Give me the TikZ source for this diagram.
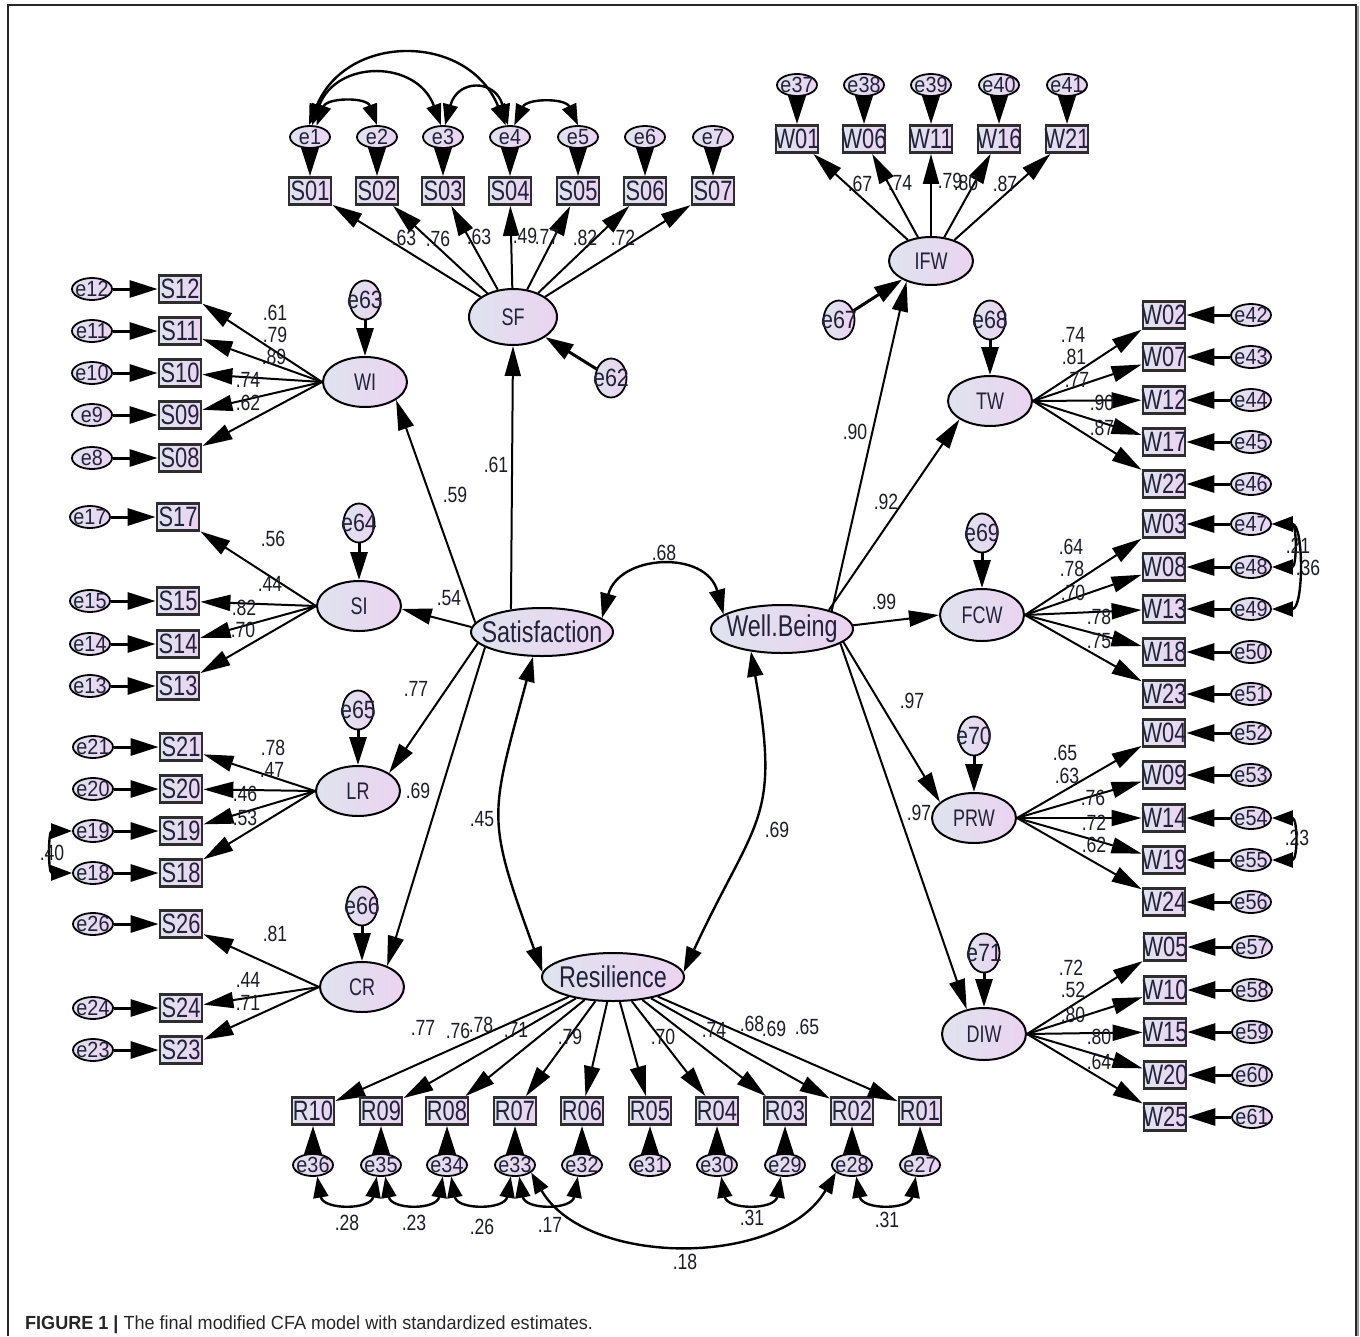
\documentclass[tikz,border=0pt]{standalone}
\usepackage{fontspec}
\setmainfont{Liberation Sans}
\newfontfamily\boxf[FakeStretch=0.78]{Liberation Sans}
\newfontfamily\errf[FakeStretch=0.9]{Liberation Sans}
\newfontfamily\distf[FakeStretch=0.86]{Liberation Sans}
\newfontfamily\latf[FakeStretch=0.75]{Liberation Sans}
\newfontfamily\bigf[FakeStretch=0.78]{Liberation Sans}
\newfontfamily\estf[FakeStretch=0.8]{Liberation Sans}
\newfontfamily\capfont[FakeStretch=0.95]{Liberation Sans}
\usetikzlibrary{shapes.geometric,arrows.meta}
\definecolor{lavL}{HTML}{DFE3EF}
\definecolor{lavR}{HTML}{EBD3F0}
\definecolor{txtc}{HTML}{22223A}
\definecolor{numc}{HTML}{1C1C28}
\definecolor{bordc}{HTML}{2E2E2E}
\tikzset{
  lavshade/.style={left color=lavL, right color=lavR},
  lat/.style={ellipse, draw=black, line width=2pt, lavshade, minimum width=84pt, minimum height=50pt, inner sep=0pt, label={[lattxt]center:#1}},
  lattxt/.style={font=\latf\fontsize{24}{24}\selectfont, text=txtc, inner sep=0pt},
  biglat/.style={ellipse, draw=black, line width=2pt, lavshade, minimum width=142pt, minimum height=48pt, inner sep=0pt, label={[bigtxt]center:#1}},
  bigtxt/.style={font=\bigf\fontsize{30}{30}\selectfont, text=txtc, inner sep=0pt},
  obs/.style={rectangle, draw=bordc, line width=2.8pt, lavshade, minimum width=42pt, minimum height=27pt, inner sep=0pt, label={[obstxt]center:#1}},
  obstxt/.style={font=\boxf\fontsize{28}{28}\selectfont, text=txtc, inner sep=0pt},
  err/.style={ellipse, draw=black, line width=1.8pt, lavshade, minimum width=40pt, minimum height=22pt, inner sep=0pt, label={[errtxt]center:#1}},
  errtxt/.style={font=\errf\fontsize{22}{22}\selectfont, text=txtc, inner sep=0pt},
  dist/.style={ellipse, draw=black, line width=1.8pt, lavshade, minimum width=31pt, minimum height=39pt, inner sep=0pt, label={[disttxt]center:#1}},
  disttxt/.style={font=\distf\fontsize{25}{25}\selectfont, text=txtc, inner sep=0pt},
  pth/.style={line width=2pt, -{Triangle[length=30pt,width=16pt]}},
  epth/.style={line width=3pt, -{Triangle[length=28pt,width=17pt]}},
  cov/.style={line width=2.4pt, {Triangle[length=25pt,width=16pt]}-{Triangle[length=25pt,width=16pt]}},
  scov/.style={line width=2.4pt, {Triangle[length=21pt,width=15pt]}-{Triangle[length=21pt,width=15pt]}},
  est/.style={font=\estf\fontsize{22}{22}\selectfont, text=numc, inner sep=0pt},
}
\begin{document}
\begin{tikzpicture}[x=1pt,y=1pt]
\useasboundingbox (0,0) rectangle (1360,-1336);
% frame
\draw[line width=1.3pt, black!85] (8,-1336) -- (8,-5) -- (1356,-5) -- (1356,-1336);
\draw[line width=2pt, black!40] (1357.5,-6) -- (1357.5,-1336);

% latent variables
\node[biglat=Satisfaction] (Sat) at (542,-632) {};
\node[biglat=Well.Being] (WB) at (782,-629) {};
\node[biglat=Resilience] (Res) at (613,-977) {};
\node[lat=SF, minimum width=88pt, minimum height=56pt] (SF) at (513,-317) {};
\node[lat=WI] (WI) at (365,-382) {};
\node[lat=SI] (SI) at (359,-606) {};
\node[lat=LR] (LR) at (358,-791) {};
\node[lat=CR] (CR) at (362,-987) {};
\node[lat=IFW, minimum height=48pt] (IFW) at (931,-261) {};
\node[lat=TW] (TW) at (990,-401) {};
\node[lat=FCW, minimum height=52pt] (FCW) at (982,-615) {};
\node[lat=PRW] (PRW) at (974,-818) {};
\node[lat=DIW, minimum height=52pt] (DIW) at (984,-1034) {};

% disturbances
\node[dist=e62] (e62) at (611,-378) {};
\node[dist=e63] (e63) at (365,-300) {};
\node[dist=e64] (e64) at (359,-523) {};
\node[dist=e65] (e65) at (358,-710) {};
\node[dist=e66] (e66) at (362,-906) {};
\node[dist=e67] (e67) at (839,-320) {};
\node[dist=e68] (e68) at (990,-320) {};
\node[dist=e69] (e69) at (982,-533) {};
\node[dist=e70] (e70) at (974,-736) {};
\node[dist=e71] (e71) at (984,-953) {};
\draw[epth] (e62) -- (SF);
\draw[epth] (e67) -- (IFW);
\foreach \d/\l in {63/WI,64/SI,65/LR,66/CR,68/TW,69/FCW,70/PRW,71/DIW}
  \draw[epth] (e\d) -- (\l);

% SF group
\foreach \i/\x in {1/310,2/377,3/443,4/510,5/578,6/645,7/713}{
  \node[err=e\i] (e\i) at (\x,-137) {};
  \node[obs=S0\i] (S0\i) at (\x,-191) {};
  \draw[epth] (e\i) -- (S0\i);
  \draw[pth] (SF) -- (S0\i);
}
% WI group
\foreach \n/\s/\y in {12/12/289,11/11/331,10/10/373,9/09/415,8/08/458}{
  \node[err=e\n] (e\n) at (92,-\y) {};
  \node[obs=S\s] (S\s) at (180,-\y) {};
  \draw[epth] (e\n) -- (S\s);
  \draw[pth] (WI.west) -- (S\s);
}
% SI group
\foreach \n/\y in {17/517,15/601,14/644,13/686}{
  \node[err=e\n] (e\n) at (90,-\y) {};
  \node[obs=S\n] (S\n) at (178,-\y) {};
  \draw[epth] (e\n) -- (S\n);
  \draw[pth] (SI.west) -- (S\n);
}
% LR group
\foreach \n/\y in {21/747,20/789,19/831,18/873}{
  \node[err=e\n] (e\n) at (93,-\y) {};
  \node[obs=S\n] (S\n) at (181,-\y) {};
  \draw[epth] (e\n) -- (S\n);
  \draw[pth] (LR.west) -- (S\n);
}
% CR group
\foreach \n/\y in {26/924,24/1008,23/1050}{
  \node[err=e\n] (e\n) at (93,-\y) {};
  \node[obs=S\n] (S\n) at (181,-\y) {};
  \draw[epth] (e\n) -- (S\n);
  \draw[pth] (CR.west) -- (S\n);
}
% IFW group
\foreach \w/\e/\x in {01/37/797,06/38/864,11/39/931,16/40/999,21/41/1067}{
  \node[err=e\e] (e\e) at (\x,-85) {};
  \node[obs=W\w] (W\w) at (\x,-139) {};
  \draw[epth] (e\e) -- (W\w);
  \draw[pth] (IFW) -- (W\w);
}
% TW group
\foreach \w/\e/\y in {02/42/315,07/43/357,12/44/400,17/45/442,22/46/484}{
  \node[obs=W\w] (W\w) at (1164,-\y) {};
  \node[err=e\e] (e\e) at (1251,-\y) {};
  \draw[epth] (e\e) -- (W\w);
  \draw[pth] (TW.east) -- (W\w);
}
% FCW group
\foreach \w/\e/\y in {03/47/524,08/48/567,13/49/609,18/50/652,23/51/694}{
  \node[obs=W\w] (W\w) at (1164,-\y) {};
  \node[err=e\e] (e\e) at (1251,-\y) {};
  \draw[epth] (e\e) -- (W\w);
  \draw[pth] (FCW.east) -- (W\w);
}
% PRW group
\foreach \w/\e/\y in {04/52/733,09/53/775,14/54/818,19/55/860,24/56/902}{
  \node[obs=W\w] (W\w) at (1164,-\y) {};
  \node[err=e\e] (e\e) at (1251,-\y) {};
  \draw[epth] (e\e) -- (W\w);
  \draw[pth] (PRW.east) -- (W\w);
}
% DIW group
\foreach \w/\e/\y in {05/57/947,10/58/990,15/59/1032,20/60/1075,25/61/1117}{
  \node[obs=W\w] (W\w) at (1165,-\y) {};
  \node[err=e\e] (e\e) at (1252,-\y) {};
  \draw[epth] (e\e) -- (W\w);
  \draw[pth] (DIW.east) -- (W\w);
}
% Resilience group
\foreach \r/\e/\x in {10/36/313,09/35/381,08/34/447,07/33/515,06/32/582,05/31/650,04/30/717,03/29/785,02/28/852,01/27/920}{
  \node[obs=R\r] (R\r) at (\x,-1111) {};
  \node[err=e\e] (e\e) at (\x,-1165) {};
  \draw[epth] (e\e) -- (R\r);
  \draw[pth] (Res) -- (R\r);
}

% structural paths
\draw[pth] (Sat.144) -- (SF.south);
\draw[pth] (Sat.172) -- (WI.-30);
\draw[pth] (Sat.176) -- (SI.-4);
\draw[pth] (Sat.190) -- (LR.30);
\draw[pth] (Sat.195) -- (CR.40);
\draw[pth] (WB.20) -- (IFW.220);
\draw[pth] (WB.22) -- (TW.211);
\draw[pth] (WB.3) -- (FCW.west);
\draw[pth] (WB.-12) -- (PRW.155);
\draw[pth] (WB.-14) -- (DIW.125);

% covariances between factors
\draw[cov] (Sat.13) to[out=75,in=105,looseness=1.4] (WB.166);
\draw[cov] (Sat.250) to[out=255,in=110,looseness=1.35] (Res.176);
\draw[cov] (WB.216) to[out=280,in=65,looseness=1.35] (Res.4);

% error covariances
\draw[scov] (e1.60) to[out=70,in=110,distance=30pt] (e2.north);
\draw[scov] (e1.80) to[out=70,in=110,distance=70pt] (e3.100);
\draw[scov] (e1.95) to[out=68,in=112,distance=100pt] (e4.110);
\draw[scov] (e3.80) to[out=75,in=105,distance=48pt] (e4.100);
\draw[scov] (e4.70) to[out=65,in=115,distance=30pt] (e5.north);
\draw[scov] (e19.west) to[out=180,in=180,distance=24pt] (e18.west);
\draw[scov] (e47.east) to[out=0,in=0,distance=25pt] (e48.east);
\draw[scov] (e47.east) to[out=0,in=0,distance=32pt] (e49.east);
\draw[scov] (e54.east) to[out=0,in=0,distance=26pt] (e55.east);
\draw[scov] (e36.-70) to[out=-80,in=-100,distance=34pt] (e35.-110);
\draw[scov] (e35.-70) to[out=-80,in=-100,distance=34pt] (e34.-110);
\draw[scov] (e34.-70) to[out=-80,in=-100,distance=34pt] (e33.-110);
\draw[scov] (e33.-70) to[out=-80,in=-100,distance=34pt] (e32.-110);
\draw[scov] (e30.-70) to[out=-80,in=-100,distance=34pt] (e29.-110);
\draw[scov] (e28.-70) to[out=-80,in=-100,distance=34pt] (e27.-110);
\draw[scov] (e33.-25) to[out=-60,in=-120,distance=110pt] (e28.-155);

% estimates
\foreach \t/\x/\y [count=\k] in {
  .63/404/238, .76/438/239, .63/479/237, .49/525/236, .77/547/237, .82/585/238, .72/623/238,
  .61/275/313, .79/275/335, .89/274/357, .74/248/380, .62/248/403,
  .56/273/539, .44/270/584, .82/244/608, .70/243/630,
  .78/273/748, .47/272/770, .46/245/794, .53/245/818, .40/52/853,
  .81/275/934, .44/248/980, .71/248/1003,
  .61/496/465, .59/455/495, .54/449/598, .77/416/689, .69/418/791, .68/664/553, .45/482/819, .69/777/830,
  .90/855/432, .92/886/502, .99/884/602, .97/912/701, .97/919/813,
  .67/860/184, .74/900/183, .79/950/181, .80/966/183, .87/1005/184,
  .74/1073/335, .81/1074/357, .77/1077/380, .90/1102/403, .87/1102/428,
  .64/1071/547, .78/1072/569, .70/1073/593, .78/1099/617, .75/1099/641, .21/1298/546, .36/1308/568,
  .65/1065/753, .63/1067/776, .76/1093/798, .72/1094/823, .62/1094/845, .23/1297/838,
  .72/1071/968, .52/1073/990, .80/1073/1015, .80/1099/1037, .64/1099/1062,
  .77/423/1028, .76/458/1031, .78/481/1025, .71/516/1030, .79/570/1037, .70/663/1037, .74/714/1030, .68/752/1024, .69/774/1029, .65/807/1027,
  .28/347/1223, .23/414/1223, .26/482/1227, .17/550/1225, .31/752/1218, .31/887/1220, .18/685/1262}
  \node[est] (est\k) at (\x,-\y) {\t};

% caption
\node[anchor=base west, inner sep=0pt, font=\capfont\fontsize{19}{19}\selectfont, text=black!85] (caption) at (25,-1329)
  {\textbf{FIGURE 1 |} The final modified CFA model with standardized estimates.};
\end{tikzpicture}
\end{document}
